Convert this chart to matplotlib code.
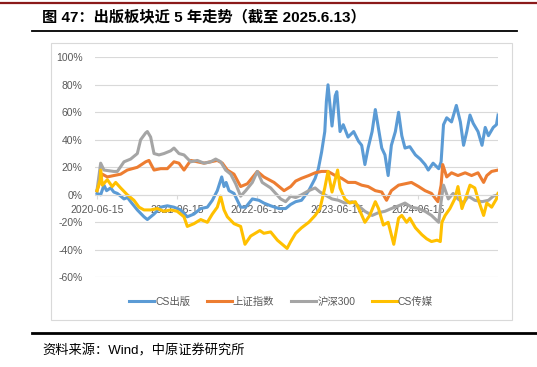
# -*- coding: utf-8 -*-
# 出版板块近5年走势
import numpy as np
import pandas as pd
import matplotlib
matplotlib.use('Agg')
import matplotlib.pyplot as plt
from matplotlib.lines import Line2D
from matplotlib.patches import Rectangle

plt.rcParams['font.family'] = ['Liberation Sans', 'Noto Sans CJK SC', 'DejaVu Sans']

start = pd.Timestamp('2020-06-15')
tick_labels = ['2020-06-15', '2021-06-15', '2022-06-15', '2023-06-15', '2024-06-15']
names = ['CS出版', '上证指数', '沪深300', 'CS传媒']
colors = ['#5B9BD5', '#ED7D31', '#A5A5A5', '#FFC000']

# years since 2020-06-15, cumulative return in %
t_pub = [0, 0.046, 0.087, 0.12, 0.17, 0.21, 0.254, 0.337, 0.38, 0.42, 0.503, 0.586, 0.628, 0.711, 0.794, 0.877,
         0.96, 1.043, 1.126, 1.209, 1.293, 1.376, 1.438, 1.5, 1.555, 1.584, 1.61, 1.646, 1.708, 1.791,
         1.854, 1.937, 2.02, 2.08, 2.165, 2.269, 2.352, 2.415, 2.477,
         2.55, 2.64, 2.72, 2.76, 2.80, 2.84, 2.86, 2.88, 2.93, 2.97, 2.99, 3.03, 3.07, 3.13, 3.20,
         3.26, 3.30, 3.34, 3.38, 3.43, 3.47, 3.51, 3.55, 3.59, 3.63, 3.67, 3.72, 3.76, 3.80, 3.84,
         3.90, 3.97, 4.03, 4.09, 4.13, 4.19, 4.26, 4.29, 4.32, 4.36, 4.42, 4.48, 4.53, 4.57, 4.61,
         4.65, 4.69, 4.75, 4.80, 4.84, 4.88, 4.94, 4.98, 5.0]
v_pub = [1, 0, 7, 3, 5, 2, 1, -3, -2, -5, -11, -16, -18, -14, -9, -8,
         -9, -11, -16, -14, -10, -9, -4, 3, 13, 6, 9, 3, 1, -9,
         -9, -3, -4, -6, -8, -10, -10, -7, -5,
         -4, 3, 12, 19, 31, 46, 68, 80, 50, 72, 75, 46, 51, 42, 46,
         39, 36, 22, 34, 46, 62, 48, 34, 29, 14, 36, 46, 60, 43, 34,
         35, 29, 26, 22, 18, 23, 19, 24, 51, 56, 53, 65, 53, 36, 46,
         58, 52, 46, 36, 49, 43, 49, 51, 58]

t_sh = [0, 0.066, 0.129, 0.21, 0.295, 0.378, 0.503, 0.607, 0.648, 0.711, 0.794, 0.877, 0.96,
        1.022, 1.085, 1.168, 1.251, 1.334, 1.417, 1.5, 1.563, 1.625, 1.708, 1.791, 1.874, 1.999,
        2.08, 2.207, 2.332, 2.415, 2.477,
        2.55, 2.64, 2.72, 2.80, 2.88, 2.97, 3.05, 3.13, 3.22, 3.30, 3.38, 3.47, 3.55, 3.61, 3.67,
        3.76, 3.84, 3.92, 4.01, 4.09, 4.17, 4.25, 4.29, 4.31, 4.36, 4.42, 4.50, 4.59, 4.67, 4.75,
        4.82, 4.86, 4.92, 5.0]
v_sh = [3, 15, 13, 14, 15, 18, 20, 24, 25, 18, 19, 19, 24,
        23, 18, 25, 24, 23, 24, 25, 23, 18, 15, 6, 8, 17,
        13, 9, 3, 6, 10,
        12, 14, 16, 17, 17, 14, 12, 9, 9, 7, 6, 3, 2, -4, 3,
        7, 8, 9, 6, 3, 1, -5, 7, 22, 13, 16, 14, 16, 14, 16,
        9, 14, 17, 18]

t_hs = [0, 0.046, 0.087, 0.21, 0.254, 0.337, 0.42, 0.503, 0.544, 0.607, 0.628, 0.669, 0.711,
        0.773, 0.835, 0.919, 0.96, 1.022, 1.085, 1.168, 1.251, 1.334, 1.417, 1.48, 1.542, 1.604,
        1.667, 1.729, 1.791, 1.854, 1.937, 1.999, 2.06, 2.165, 2.29, 2.352, 2.415, 2.477,
        2.55, 2.64, 2.72, 2.78, 2.84, 2.93, 3.01, 3.09, 3.18, 3.26, 3.34, 3.43, 3.51, 3.59, 3.67,
        3.76, 3.84, 3.92, 4.01, 4.09, 4.17, 4.26, 4.29, 4.32, 4.38, 4.44, 4.50, 4.57, 4.63, 4.71,
        4.80, 4.88, 4.94, 5.0]
v_hs = [3, 23, 18, 17, 17, 24, 26, 30, 40, 45, 46, 42, 30,
        29, 30, 32, 34, 30, 29, 24, 25, 23, 24, 26, 24, 18,
        15, 8, -1, 3, 9, 17, 9, 5, -3, -5, -1, -2,
        0, 3, 5, 2, 0, -3, -4, -6, -5, -8, -12, -15, -13, -12, -10,
        -8, -6, -9, -10, -12, -15, -20, -5, 7, -3, 1, -3, -6, -1, -4,
        -5, -4, -1, 0]

t_cm = [0, 0.04, 0.046, 0.066, 0.129, 0.19, 0.233, 0.295, 0.378, 0.461, 0.524, 0.586, 0.669,
        0.752, 0.835, 0.919, 1.0, 1.085, 1.126, 1.209, 1.293, 1.376, 1.438, 1.5, 1.542, 1.584,
        1.625, 1.708, 1.791, 1.845, 1.916, 2.03, 2.08, 2.165, 2.249, 2.37, 2.415, 2.477,
        2.55, 2.64, 2.72, 2.78, 2.84, 2.88, 2.93, 3.0, 3.03, 3.09, 3.15, 3.22, 3.28, 3.34, 3.40,
        3.47, 3.51, 3.57, 3.63, 3.70, 3.76, 3.80, 3.86, 3.90, 3.97, 4.05, 4.11, 4.17, 4.24, 4.28,
        4.30, 4.34, 4.40, 4.46, 4.50, 4.55, 4.61, 4.65, 4.71, 4.75, 4.82, 4.86, 4.92, 4.98, 5.0]
v_cm = [3, 11, 18, 7, 11, 6, 9, 5, 0, -4, -9, -11, -11,
        -10, -12, -11, -12, -16, -23, -21, -18, -20, -14, -9, -1, -11,
        -16, -21, -23, -36, -30, -26, -28, -27, -33, -39, -34, -28,
        -24, -20, -15, -10, 5, 17, 2, 18, 5, -3, -6, -5, -12, -20, -15,
        -5, -10, -22, -20, -36, -17, -15, -20, -17, -24, -29, -32, -34, -33, -34,
        -20, -15, -10, -3, 6, -10, 0, 7, 5, -3, -15, -6, -9, -3, 1]

series = [(t_pub, v_pub), (t_sh, v_sh), (t_hs, v_hs), (t_cm, v_cm)]

fig = plt.figure(figsize=(5.37, 3.67), dpi=100)
W, H = 537.0, 367.0

# header / footer decoration
fig.add_artist(Line2D([0, 1], [1 - 3 / H, 1 - 3 / H], color='#8B1A1A', lw=1.6))
fig.text(42 / W, 1 - 17 / H, '图 47：出版板块近 5 年走势（截至 2025.6.13）',
         fontsize=11, fontweight='bold', va='center', ha='left',
         family=['Liberation Sans', 'Noto Sans CJK SC'])
fig.add_artist(Line2D([32 / W, 517 / W], [1 - 31 / H, 1 - 31 / H], color='black', lw=1.3))
fig.add_artist(Rectangle((51 / W, 1 - 320 / H), 461 / W, 277 / H, fill=False,
                         edgecolor='#D9D9D9', lw=0.8))
fig.add_artist(Line2D([32 / W, 1], [1 - 333 / H, 1 - 333 / H], color='black', lw=2.0))
fig.text(42 / W, 1 - 351 / H, '资料来源：Wind，中原证券研究所', fontsize=9.5,
         va='center', ha='left', family=['Liberation Sans', 'Noto Sans CJK SC'])

ax = fig.add_axes([95 / W, 1 - 277.3 / H, 403 / W, 220 / H])
for (t, v), c, n in zip(series, colors, names):
    x = start + pd.to_timedelta(np.array(t) * 365.25, unit='D')
    ax.plot(x, v, color=c, lw=2.2, label=n, solid_joinstyle='round')

ax.set_ylim(-60, 100)
ax.set_yticks(range(-60, 101, 20))
ax.set_yticklabels([f'{y}%' for y in range(-60, 101, 20)])
ax.set_xlim(start - pd.Timedelta(days=9), start + pd.Timedelta(days=int(5.0 * 365.25)))
ax.set_xticks(pd.to_datetime(tick_labels))
ax.set_xticklabels(tick_labels)

ax.grid(axis='y', color='#D9D9D9', lw=0.8)
ax.set_axisbelow(True)
for s in ['top', 'right', 'left']:
    ax.spines[s].set_visible(False)
ax.spines['bottom'].set_position(('data', 0))
ax.spines['bottom'].set_color('#D9D9D9')
ax.tick_params(axis='y', length=0, pad=9, labelsize=7.5, labelcolor='#595959')
ax.tick_params(axis='x', length=3, color='#D9D9D9', pad=4, labelsize=7.5, labelcolor='#595959')

fig.legend(loc='center', bbox_to_anchor=(281 / W, 1 - 302 / H), ncol=4, frameon=False,
           fontsize=7.5, handlelength=2.4, handletextpad=0.1, columnspacing=1.6,
           labelcolor='#595959')

fig.savefig('out.png', dpi=100)
